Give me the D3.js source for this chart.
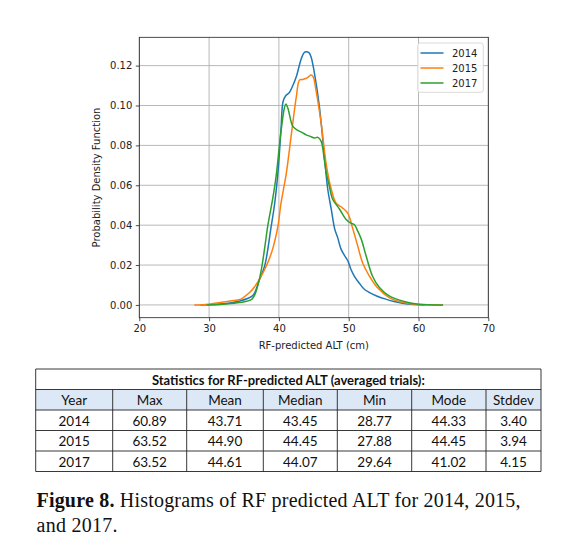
<!DOCTYPE html>
<html><head><meta charset="utf-8">
<script src="https://cdn.jsdelivr.net/npm/d3@7"></script>
<style>body{margin:0;background:#fff}svg{display:block}
.mpl{font-family:"DejaVu Sans",Verdana,sans-serif;font-size:10px;fill:#222}
</style>
</head><body>
<script>
// ---- data ----
const years = ["2014", "2015", "2017"];
const colors = ["#1f77b4", "#ff7f0e", "#2ca02c"];
const xTicks = [20, 30, 40, 50, 60, 70];
const yTicks = [0, 0.02, 0.04, 0.06, 0.08, 0.10, 0.12];
const pdf2014 = [[28.77,0],[31,0.0003],[33,0.001],[34.4,0.002],[35.5,0.0032],[36.3,0.0048],[37.2,0.0125],[37.96,0.0195],[38.9,0.0395],[39.4,0.051],[39.9,0.068],[40.3,0.088],[40.6,0.102],[41.0,0.105],[41.5,0.1065],[42.0,0.110],[42.5,0.1145],[43.2,0.1235],[43.6,0.1265],[43.9,0.127],[44.3,0.1265],[44.6,0.1245],[45.1,0.116],[45.8,0.0995],[46.5,0.075],[47.0,0.058],[47.5,0.048],[48.0,0.038],[48.4,0.034],[48.9,0.028],[49.6,0.0237],[49.9,0.022],[50.3,0.018],[50.8,0.0145],[51.5,0.011],[52.2,0.008],[53.0,0.0062],[54.0,0.0045],[55.3,0.0029],[56.5,0.0017],[57.7,0.0009],[59,0.0003],[60.89,0]];
const pdf2015 = [[27.88,0],[30,0.0004],[33,0.002],[34.4,0.0027],[34.9,0.0037],[35.8,0.0062],[36.5,0.009],[37.2,0.0128],[38.2,0.0195],[39.1,0.028],[39.86,0.0395],[40.3,0.051],[41.06,0.066],[41.8,0.086],[42.5,0.1045],[42.96,0.1128],[43.4,0.113],[44.1,0.114],[44.6,0.1153],[44.9,0.1145],[45.3,0.108],[46.06,0.091],[46.8,0.070],[47.5,0.058],[48.2,0.051],[49.1,0.0487],[49.86,0.046],[50.6,0.038],[51.3,0.0295],[52.0,0.021],[52.96,0.0145],[54.1,0.0087],[55.8,0.0037],[57.7,0.0013],[59.5,0.0003],[63.52,0]];
const pdf2017 = [[29.64,0],[32,0.0004],[34.4,0.0012],[36.1,0.0028],[36.6,0.0055],[37.0,0.010],[37.5,0.018],[38.0,0.0295],[38.4,0.0395],[39.1,0.053],[39.6,0.0645],[40.3,0.087],[40.8,0.099],[41.0,0.1008],[41.3,0.0985],[42.0,0.0895],[42.7,0.0875],[43.3,0.0865],[43.9,0.0853],[44.5,0.0845],[45.1,0.0837],[45.6,0.084],[46.06,0.082],[46.5,0.073],[46.8,0.066],[47.2,0.060],[47.7,0.053],[48.7,0.048],[49.6,0.043],[50.3,0.041],[50.8,0.0403],[51.3,0.037],[51.8,0.033],[52.5,0.0245],[53.4,0.0145],[54.4,0.0087],[55.8,0.0045],[58.2,0.0015],[60,0.0004],[63.52,0]];
const series = [pdf2014, pdf2015, pdf2017];

const tableTitle = "Statistics for RF-predicted ALT (averaged trials):";
const tableHeader = ["Year", "Max", "Mean", "Median", "Min", "Mode", "Stddev"];
const tableRows = [
  ["2014", "60.89", "43.71", "43.45", "28.77", "44.33", "3.40"],
  ["2015", "63.52", "44.90", "44.45", "27.88", "44.45", "3.94"],
  ["2017", "63.52", "44.61", "44.07", "29.64", "41.02", "4.15"]
];
const captionBold = "Figure 8.";
const captionLine1 = " Histograms of RF predicted ALT for 2014, 2015,";
const captionLine2 = "and 2017.";

// ---- layout ----
const W = 564, H = 560;
const svg = d3.select("body").append("svg").attr("width", W).attr("height", H);
svg.append("rect").attr("width", W).attr("height", H).attr("fill", "#fff");

const L = 139.3, R = 488.3, T = 37.3, B = 317.7;
const x = d3.scaleLinear().domain([20, 70]).range([L, R]);
const y = d3.scaleLinear().domain([-0.0064, 0.1342]).range([B, T]);

const g = svg.append("g");
g.selectAll(".gx").data(xTicks).join("line")
  .attr("x1", d => x(d)).attr("x2", d => x(d)).attr("y1", T).attr("y2", B)
  .attr("stroke", "#b0b0b0").attr("stroke-width", 0.9);
g.selectAll(".gy").data(yTicks).join("line")
  .attr("x1", L).attr("x2", R).attr("y1", d => y(d)).attr("y2", d => y(d))
  .attr("stroke", "#b0b0b0").attr("stroke-width", 0.9);

const line = d3.line().x(d => x(d[0])).y(d => y(d[1])).curve(d3.curveCatmullRom.alpha(0.5));
series.forEach((s, i) => {
  g.append("path").datum(s).attr("d", line).attr("fill", "none")
    .attr("stroke", colors[i]).attr("stroke-width", 1.5);
});

const xAxis = d3.axisBottom(x).tickValues(xTicks).tickSize(3.5).tickPadding(3.5).tickFormat(d3.format("d"));
const yAxis = d3.axisLeft(y).tickValues(yTicks).tickSize(3.5).tickPadding(3.5).tickFormat(d3.format(".2f"));
const gx = svg.append("g").attr("transform", `translate(0,${B})`).call(xAxis);
const gy = svg.append("g").attr("transform", `translate(${L},0)`).call(yAxis);
[gx, gy].forEach(a => {
  a.attr("font-family", null).attr("font-size", null);
  a.select(".domain").remove();
  a.selectAll("line").attr("stroke", "#222").attr("stroke-width", 0.8);
  a.selectAll("text").attr("class", "mpl").attr("fill", null);
});
svg.append("rect").attr("x", L).attr("y", T).attr("width", R - L).attr("height", B - T)
  .attr("fill", "none").attr("stroke", "#222").attr("stroke-width", 0.8);

svg.append("text").attr("class", "mpl").attr("x", (L + R) / 2).attr("y", 349).attr("text-anchor", "middle")
  .text("RF-predicted ALT (cm)");
svg.append("text").attr("class", "mpl").attr("transform", `translate(100,${(T + B) / 2}) rotate(-90)`).attr("text-anchor", "middle")
  .text("Probability Density Function");

// legend
const lg = svg.append("g");
lg.append("rect").attr("x", 417.7).attr("y", 43).attr("width", 65.6).attr("height", 49.3)
  .attr("rx", 2.5).attr("fill", "#fff").attr("fill-opacity", 0.85).attr("stroke", "#d0d0d0").attr("stroke-width", 0.8);
years.forEach((yr, i) => {
  const yy = 53 + i * 15;
  lg.append("line").attr("x1", 420.5).attr("x2", 443.5).attr("y1", yy).attr("y2", yy)
    .attr("stroke", colors[i]).attr("stroke-width", 1.5);
  lg.append("text").attr("class", "mpl").attr("x", 452).attr("y", yy + 3.5).text(yr);
});

// table
const tX = 35.7, tR = 541, tT = 369;
const colEdges = [35.7, 112.7, 186.7, 263.3, 337.3, 411.7, 486, tR];
const rowEdges = [tT, 389.5, 410, 430.5, 451, 471.5];
const tg = svg.append("g");
tg.append("rect").attr("x", tX).attr("y", rowEdges[1]).attr("width", tR - tX).attr("height", rowEdges[2] - rowEdges[1])
  .attr("fill", "#dce8f5");
tg.append("text").attr("x", (tX + tR) / 2).attr("y", 384.5).attr("text-anchor", "middle")
  .style("font-family", "Lato").style("font-weight", "bold").style("font-size", "13px").attr("fill", "#111")
  .text(tableTitle);
const allRows = [tableHeader].concat(tableRows);
allRows.forEach((row, ri) => {
  row.forEach((cell, ci) => {
    tg.append("text").attr("x", (colEdges[ci] + colEdges[ci + 1]) / 2)
      .attr("y", rowEdges[ri + 1] + 15.5).attr("text-anchor", "middle")
      .style("font-family", "Lato").style("font-size", "13.5px").attr("fill", "#111").text(cell);
  });
});
rowEdges.forEach(ry => {
  tg.append("line").attr("x1", tX).attr("x2", tR).attr("y1", ry).attr("y2", ry)
    .attr("stroke", "#222").attr("stroke-width", 0.9);
});
colEdges.forEach((cx, i) => {
  const top = (i === 0 || i === colEdges.length - 1) ? tT : rowEdges[1];
  tg.append("line").attr("x1", cx).attr("x2", cx).attr("y1", top).attr("y2", rowEdges[rowEdges.length - 1])
    .attr("stroke", "#222").attr("stroke-width", 0.9);
});

// caption
const cap = svg.append("text").attr("x", 36.5).attr("y", 507)
  .attr("textLength", 484).attr("lengthAdjust", "spacing")
  .style("font-family", "Liberation Serif").style("font-size", "20px").attr("fill", "#111");
cap.append("tspan").style("font-weight", "bold").text(captionBold);
cap.append("tspan").text(captionLine1);
svg.append("text").attr("x", 36.5).attr("y", 532)
  .attr("textLength", 81).attr("lengthAdjust", "spacing")
  .style("font-family", "Liberation Serif").style("font-size", "20px").attr("fill", "#111").text(captionLine2);
</script>
</body></html>
